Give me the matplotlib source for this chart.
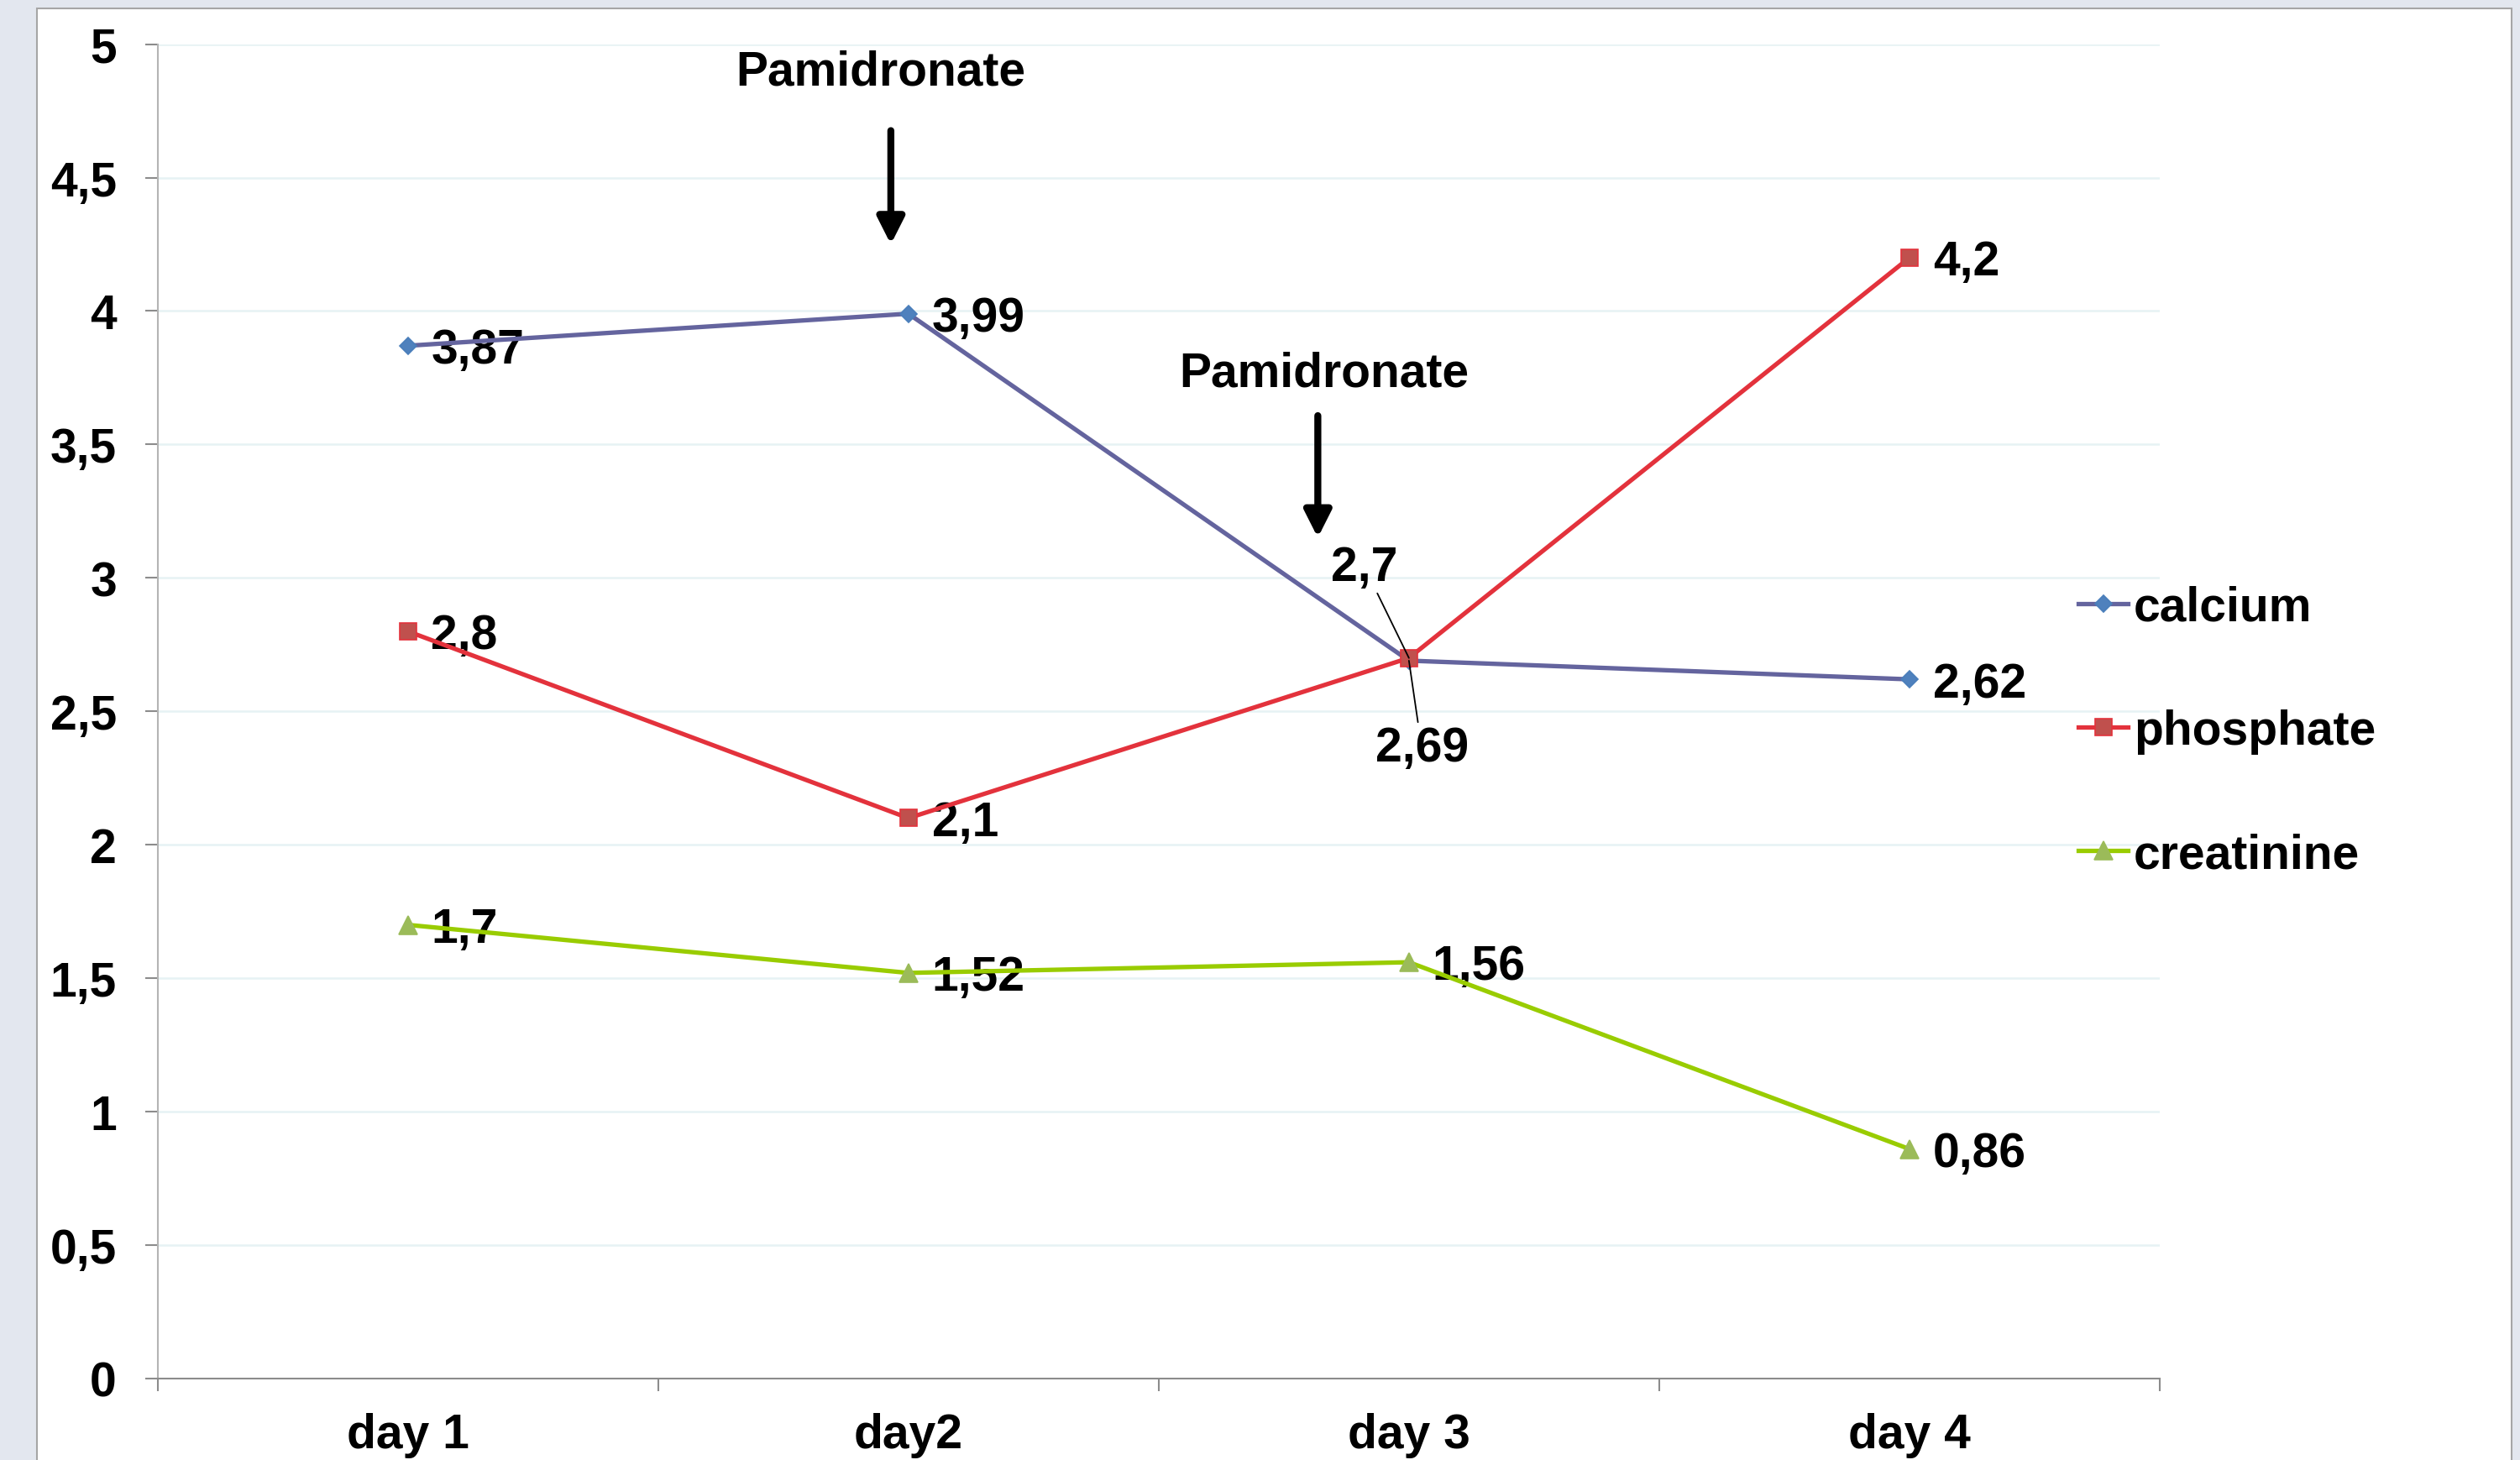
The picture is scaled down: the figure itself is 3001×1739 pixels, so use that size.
import matplotlib
matplotlib.use('Agg')
import matplotlib.pyplot as plt
from matplotlib.patches import Rectangle

# ---------------- data ----------------
days = ['day 1', 'day2', 'day 3', 'day 4']
calcium = [3.87, 3.99, 2.69, 2.62]
phosphate = [2.8, 2.1, 2.7, 4.2]
creatinine = [1.7, 1.52, 1.56, 0.86]
series_names = ['calcium', 'phosphate', 'creatinine']
y_ticks = [0, 0.5, 1, 1.5, 2, 2.5, 3, 3.5, 4, 4.5, 5]
y_tick_labels = ['0', '0,5', '1', '1,5', '2', '2,5', '3', '3,5', '4', '4,5', '5']
event_label = 'Pamidronate'

# ---------------- style ----------------
FONT = 'Liberation Sans'
FS = 41
plt.rcParams['font.family'] = [FONT, 'DejaVu Sans']
plt.rcParams['font.weight'] = 'bold'

styles = {
    'calcium':    dict(color='#64649E', marker='D', ms=10.5, mfc='#4F81BD', mec='#4A7EBB'),
    'phosphate':  dict(color='#E3323C', marker='s', ms=14.5, mfc='#C0504D', mec='#E3323C'),
    'creatinine': dict(color='#99CC00', marker='^', ms=16, mfc='#9BBB59', mec='#9BBB59'),
}

W, H = 3001, 1740
fig = plt.figure(figsize=(W / 100, H / 100), dpi=100)
fig.patch.set_facecolor('#E3E7EF')

box = Rectangle((44 / W, -0.05), (2991 - 44) / W, 1.05 - 11 / H,
                transform=fig.transFigure, facecolor='white',
                edgecolor='#A6A6A6', lw=1.5, zorder=-1)
fig.add_artist(box)

ax = fig.add_axes([187.6 / W, 1 - 1643 / H, (2572 - 187.6) / W, (1643 - 53.6) / H])
ax.set_facecolor('none')

x = list(range(len(days)))
data = {'calcium': calcium, 'phosphate': phosphate, 'creatinine': creatinine}
handles = []
for name in series_names:
    st = styles[name]
    h, = ax.plot(x, data[name], color=st['color'], lw=3.8, marker=st['marker'],
                 ms=st['ms'], mfc=st['mfc'], mec=st['mec'], mew=1.2,
                 zorder=4, label=name, solid_joinstyle='round')
    handles.append(h)

# data labels
def fmt(v):
    return f'{v:g}'.replace('.', ',')

special = {
    ('phosphate', 2): dict(off=(-38, 67), ha='center', leader=True),
    ('calcium', 2): dict(off=(11, -86), ha='center', leader=True),
}
cap_half = 0.358 * FS
for name in series_names:
    for i, v in enumerate(data[name]):
        sp = special.get((name, i))
        if sp is None:
            ax.annotate(fmt(v), xy=(i, v), xytext=(20, -cap_half), textcoords='offset points',
                        ha='left', va='baseline', fontsize=FS, fontweight='bold',
                        color='black', zorder=3)
        else:
            ax.annotate(fmt(v), xy=(i, v), xytext=sp['off'], textcoords='offset points',
                        ha=sp['ha'], va='baseline', fontsize=FS, fontweight='bold',
                        color='black', zorder=5,
                        arrowprops=dict(arrowstyle='-', color='black', lw=1.3,
                                        shrinkA=1, shrinkB=0))

# Pamidronate event annotations (text + arrow)
events = [
    dict(text_xy=(0.945, 4.849), tail=(0.965, 4.676), tip=(0.965, 4.25)),
    dict(text_xy=(1.831, 3.719), tail=(1.818, 3.608), tip=(1.818, 3.151)),
]
for ev in events:
    ax.text(*ev['text_xy'], event_label, ha='center', va='baseline', fontsize=FS,
            fontweight='bold', color='black', zorder=6)
    ax.annotate('', xy=ev['tip'], xytext=ev['tail'],
                arrowprops=dict(arrowstyle='-|>,head_length=0.95,head_width=0.48',
                                mutation_scale=20, lw=6, color='black',
                                shrinkA=0, shrinkB=0), zorder=6)

# axes
ax.set_xlim(-0.5, len(days) - 0.5)
ax.set_ylim(0, 5)
ax.set_yticks(y_ticks)
ax.set_yticklabels(y_tick_labels)
ax.set_xticks([i - 0.5 for i in range(len(days) + 1)])
ax.set_xticklabels([])
ax.set_xticks(x, minor=True)
ax.set_xticklabels(days, minor=True)
ax.tick_params(axis='x', which='major', length=11, width=1.5, color='#8C8C8C', direction='out')
ax.tick_params(axis='x', which='minor', length=0, pad=29, labelsize=FS)
ax.tick_params(axis='y', length=11, width=1.5, color='#8C8C8C', direction='out', pad=24, labelsize=FS)
for lab in ax.get_xticklabels(minor=True) + ax.get_yticklabels():
    lab.set_fontweight('bold')

for s in ['top', 'right']:
    ax.spines[s].set_visible(False)
ax.spines['left'].set_color('#B4B4B4')
ax.spines['left'].set_linewidth(1.5)
ax.spines['bottom'].set_color('#8C8C8C')
ax.spines['bottom'].set_linewidth(1.5)

ax.yaxis.grid(True, color='#E6F2F4', lw=1.8, zorder=0)
ax.set_axisbelow(True)

leg = fig.legend(handles=handles, labels=series_names, loc='center left',
                 bbox_to_anchor=(2475 / W, 1 - 872 / H), frameon=False,
                 prop=dict(family=FONT, weight='bold', size=FS),
                 handlelength=1.04, handletextpad=0.12, labelspacing=1.64,
                 borderpad=0, borderaxespad=0)

fig.savefig('out.png', dpi=100, facecolor=fig.get_facecolor())
